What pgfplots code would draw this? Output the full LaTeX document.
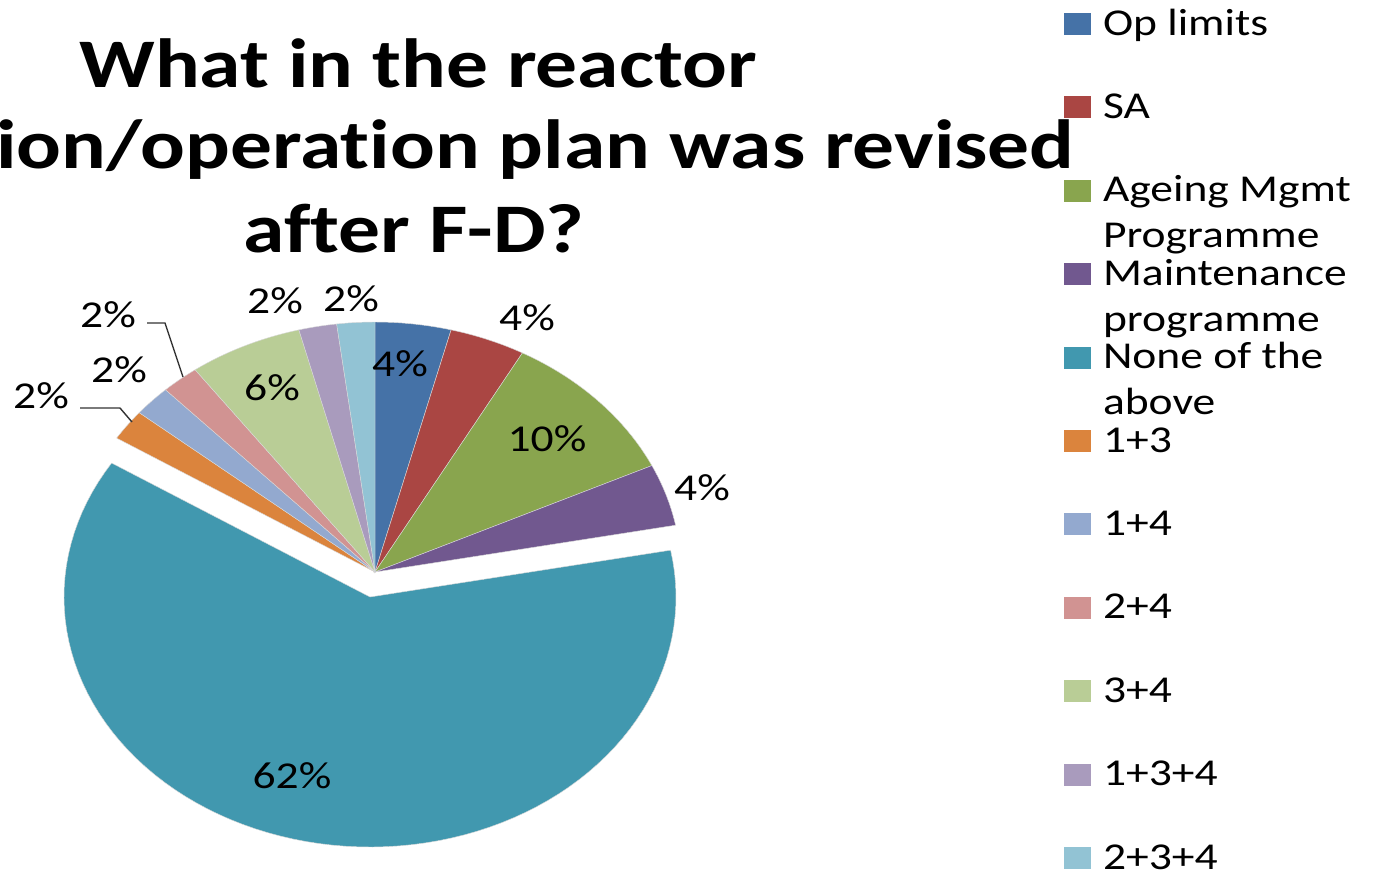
\documentclass[border=0pt]{standalone}
\usepackage{fontspec}
\setmainfont{Carlito}[FakeStretch=1.2, Ligatures=NoCommon]
\usepackage{pgfplots}
\pgfplotsset{compat=1.18}
\definecolor{c1}{HTML}{4572A7}
\definecolor{c2}{HTML}{AA4643}
\definecolor{c3}{HTML}{89A54E}
\definecolor{c4}{HTML}{71588F}
\definecolor{c5}{HTML}{4198AF}
\definecolor{c6}{HTML}{DB843D}
\definecolor{c7}{HTML}{93A9CF}
\definecolor{c8}{HTML}{D19392}
\definecolor{c9}{HTML}{B9CD96}
\definecolor{c10}{HTML}{A99BBD}
\definecolor{c11}{HTML}{92C3D4}
\newcommand\twoline[2]{\vtop{\baselineskip=4.6mm\hbox{#1}\hbox{#2}}}
\newcommand\lbl{\fontsize{10.8}{12.5}\selectfont}
\newcommand\ttl{\fontsize{19.8}{23.6}\selectfont\bfseries}
\begin{document}
\begin{tikzpicture}
\begin{axis}[
  name=ax, scale only axis, width=137.3mm, height=87.3mm,
  xmin=0, xmax=1373, ymin=0, ymax=873, y dir=reverse,
  hide axis, clip=false,
  every axis plot/.append style={draw=white!70!gray, line width=0.12pt, mark=none},
  legend image code/.code={\path[#1, draw=none] (0mm,-1.1mm) rectangle (2.7mm,1.1mm);},
  legend style={draw=none, fill=none, inner sep=0pt, outer sep=0pt,
    at={(axis cs:1064,-17.7)}, anchor=north west, row sep=0pt, column sep=1.2mm,
    font=\lbl, cells={anchor=center},
    nodes={inner sep=0pt, text height=5.27mm, text depth=3.07mm, align=left}},
  legend cell align=left,
]
% percentages (clockwise from 12 o'clock, 1% = 3.6 deg):
% Op limits 4, SA 4, Ageing 10, Maintenance 4, None 62, 1+3 2, 1+4 2, 2+4 2, 3+4 6, 1+3+4 2, 2+3+4 2
\addplot[fill=c1, domain=75.6:90, samples=12] ({375+306*cos(x)},{572-250*sin(x)}) -- (axis cs:375,572) -- cycle;
\addlegendentry{Op limits}
\addplot[fill=c2, domain=61.2:75.6, samples=12] ({375+306*cos(x)},{572-250*sin(x)}) -- (axis cs:375,572) -- cycle;
\addlegendentry{SA}
\addplot[fill=c3, domain=25.2:61.2, samples=24] ({375+306*cos(x)},{572-250*sin(x)}) -- (axis cs:375,572) -- cycle;
\addlegendentry{\twoline{Ageing Mgmt}{Programme}}
\addplot[fill=c4, domain=10.8:25.2, samples=12] ({375+306*cos(x)},{572-250*sin(x)}) -- (axis cs:375,572) -- cycle;
\addlegendentry{\twoline{Maintenance}{programme}}
\addplot[fill=c5, domain=-212.4:10.8, samples=90] ({370+306*cos(x)},{597-250*sin(x)}) -- (axis cs:370,597) -- cycle;
\addlegendentry{\twoline{None of the}{above}}
\addplot[fill=c6, domain=140.4:147.6, samples=8] ({375+306*cos(x)},{572-250*sin(x)}) -- (axis cs:375,572) -- cycle;
\addlegendentry{1+3}
\addplot[fill=c7, domain=133.2:140.4, samples=8] ({375+306*cos(x)},{572-250*sin(x)}) -- (axis cs:375,572) -- cycle;
\addlegendentry{1+4}
\addplot[fill=c8, domain=126:133.2, samples=8] ({375+306*cos(x)},{572-250*sin(x)}) -- (axis cs:375,572) -- cycle;
\addlegendentry{2+4}
\addplot[fill=c9, domain=104.4:126, samples=16] ({375+306*cos(x)},{572-250*sin(x)}) -- (axis cs:375,572) -- cycle;
\addlegendentry{3+4}
\addplot[fill=c10, domain=97.2:104.4, samples=8] ({375+306*cos(x)},{572-250*sin(x)}) -- (axis cs:375,572) -- cycle;
\addlegendentry{1+3+4}
\addplot[fill=c11, domain=90:97.2, samples=8] ({375+306*cos(x)},{572-250*sin(x)}) -- (axis cs:375,572) -- cycle;
\addlegendentry{2+3+4}

% title
\node[font=\ttl, anchor=base] at (axis cs:418,87) {What in the reactor};
\node[font=\ttl, anchor=base east, inner sep=0pt] at (axis cs:1075,168) {ion/operation plan was revised};
\node[font=\ttl, anchor=base] at (axis cs:414,252) {after F-D?};

% data labels
\node[font=\lbl] at (axis cs:400,364) {4\%};
\node[font=\lbl] at (axis cs:527,318) {4\%};
\node[font=\lbl] at (axis cs:547,439) {10\%};
\node[font=\lbl] at (axis cs:702,488) {4\%};
\node[font=\lbl] at (axis cs:292,776) {62\%};
\node[font=\lbl] at (axis cs:41,396) {2\%};
\node[font=\lbl] at (axis cs:119,370) {2\%};
\node[font=\lbl] at (axis cs:108,315) {2\%};
\node[font=\lbl] at (axis cs:272,388) {6\%};
\node[font=\lbl] at (axis cs:275,301) {2\%};
\node[font=\lbl] at (axis cs:351,299) {2\%};
\draw[black!80, line width=0.4pt] (axis cs:80,408) -- (axis cs:120,408) -- (axis cs:132,422);
\draw[black!80, line width=0.4pt] (axis cs:147,323) -- (axis cs:165,323) -- (axis cs:183,377);
\end{axis}
\pgfresetboundingbox
\path[use as bounding box] (ax.south west) rectangle (ax.north east);
\end{tikzpicture}
\end{document}
